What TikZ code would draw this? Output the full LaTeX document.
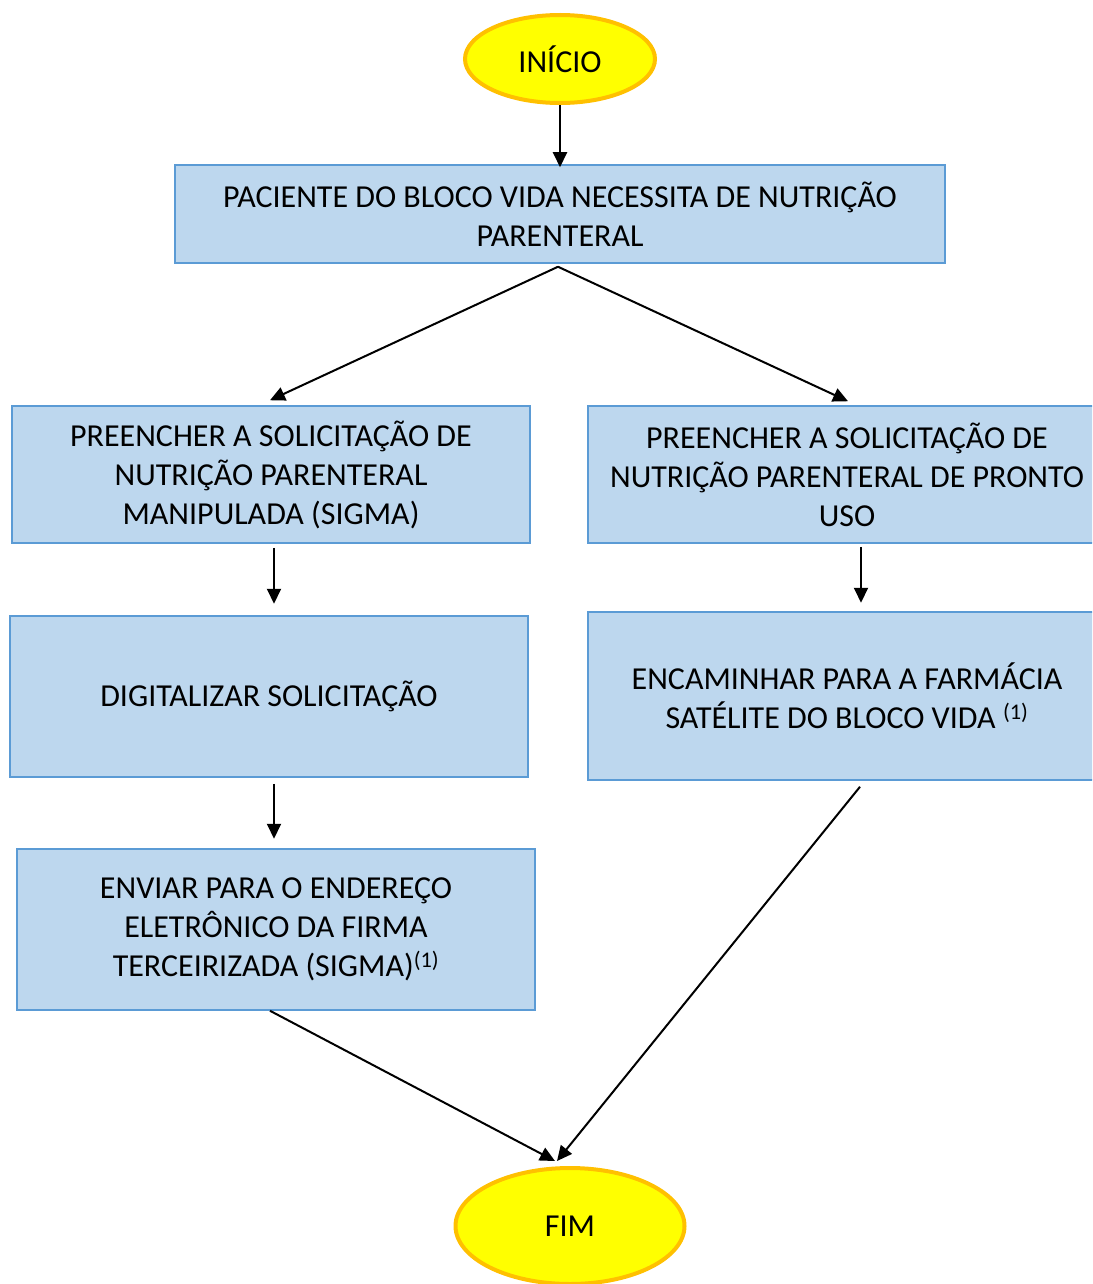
\documentclass[tikz,border=0pt]{standalone}
\usepackage{fontspec}
\setmainfont{Carlito}
\usetikzlibrary{arrows.meta,calc,shapes.geometric}
\definecolor{boxfill}{HTML}{BDD7EE}
\definecolor{boxline}{HTML}{5B9BD5}
\definecolor{termfill}{HTML}{FFFF00}
\definecolor{termline}{HTML}{FFC000}
\tikzset{
  stepbox/.style={rectangle, draw=boxline, line width=1.5pt, fill=boxfill,
    minimum width=518pt, align=center, inner sep=0pt,
    font=\fontsize{32}{39}\selectfont},
  term/.style={ellipse, draw=termline, fill=termfill, line width=4pt,
    inner sep=0pt, font=\fontsize{32}{39}\selectfont},
  arr/.style={line width=2pt, -{Triangle[length=15pt,width=14pt]}},
  ln/.style={line width=2pt}
}
\begin{document}
\begin{tikzpicture}[x=1pt,y=-1pt]
\useasboundingbox (0,0) rectangle (1092,1284);
\clip (0,0) rectangle (1092,1284);
\node[term, minimum width=190pt, minimum height=88pt] (start) at (560,59) {INÍCIO};
\node[stepbox, minimum width=770pt, minimum height=98pt] (b1) at (560,214)
  {PACIENTE DO BLOCO VIDA NECESSITA DE NUTRIÇÃO\\PARENTERAL};
\node[stepbox, minimum height=137pt] (l1) at (271,474.5)
  {PREENCHER A SOLICITAÇÃO DE\\NUTRIÇÃO PARENTERAL\\MANIPULADA (SIGMA)};
\node[stepbox, minimum width=540pt, minimum height=137pt] (r1) at (858,474.5)
  {\hspace*{-22pt}PREENCHER A SOLICITAÇÃO DE\\\hspace*{-22pt}NUTRIÇÃO PARENTERAL DE PRONTO\\\hspace*{-22pt}USO};
\node[stepbox, minimum height=161pt] (l2) at (269,696.5)
  {DIGITALIZAR SOLICITAÇÃO};
\node[stepbox, minimum width=540pt, minimum height=168pt] (r2) at (858,696)
  {\hspace*{-22pt}ENCAMINHAR PARA A FARMÁCIA\\\hspace*{-22pt}SATÉLITE DO BLOCO VIDA \textsuperscript{(1)}};
\node[stepbox, minimum height=161pt] (l3) at (276,929.5)
  {ENVIAR PARA O ENDEREÇO\\ELETRÔNICO DA FIRMA\\TERCEIRIZADA (SIGMA)\textsuperscript{(1)}};
\node[term, minimum width=229pt, minimum height=116pt] (end) at (570,1226) {FIM};

\draw[arr] (start.south) -- ([yshift=-3pt]b1.north);
\coordinate (split) at ($(b1.south)+(-2,3)$);
\draw[arr] (split) -- ($(l1.north)+(-1,-5)$);
\draw[arr] (split) -- ($(r1.north)+(-10,-4)$);
\draw[arr] ($(l1.south)+(3,4)$) -- ($(l1.south)+(3,60)$);
\draw[arr] ($(l2.south)+(5,6)$) -- ($(l2.south)+(5,61)$);
\draw[arr] ($(r1.south)+(3,3)$) -- ($(r1.south)+(3,59)$);
\draw[arr] ($(r2.south)+(2,6)$) -- ($(end.north)+(-13,-5)$);
\draw[arr] ($(l3.south)+(-6,0)$) -- ($(end.north)+(-15,-5)$);
\end{tikzpicture}
\end{document}
